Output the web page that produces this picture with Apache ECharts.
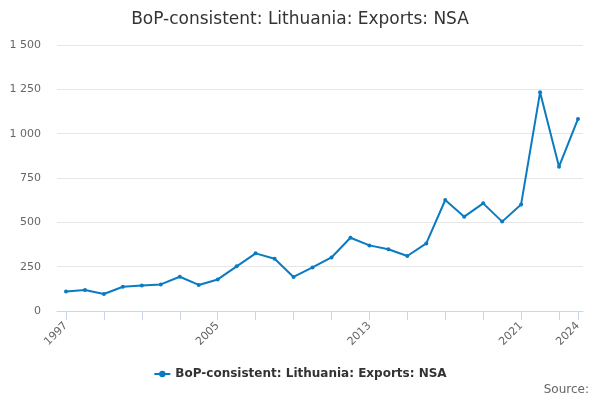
<!DOCTYPE html>
<html><head><meta charset="utf-8">
<script src="https://cdn.jsdelivr.net/npm/echarts@6/dist/echarts.min.js"></script>
<style>html,body{margin:0;padding:0;background:#fff}#c{width:600px;height:400px}</style>
</head><body><div id="c"></div>
<script>
const years = [1997,1998,1999,2000,2001,2002,2003,2004,2005,2006,2007,2008,2009,2010,2011,2012,2013,2014,2015,2016,2017,2018,2019,2020,2021,2022,2023,2024];
const exportsNSA = [110,118,96,137,144,150,193,147,178,252,325,295,192,246,302,413,370,348,310,381,626,532,607,504,601,1233,814,1083];
const labelYears = [1997,2005,2013,2021,2024];
const tickYears = [1997,1999,2001,2003,2005,2007,2009,2011,2013,2015,2017,2019,2021,2023,2024];
const seriesName = "BoP-consistent: Lithuania: Exports: NSA";

const chart = echarts.init(document.getElementById('c'));
const font = 'DejaVu Sans';
chart.setOption({
  animation: false,
  title: { text: seriesName, left: 'center', top: 6,
    textStyle: { fontFamily: font, fontSize: 17, fontWeight: 'normal', color: '#333' } },
  grid: { left: 57, right: 17, top: 45, bottom: 89 },
  legend: { bottom: 15, left: 'center', itemWidth: 16, itemHeight: 8,
    textStyle: { fontFamily: font, fontSize: 12, fontWeight: 'bold', color: '#333' } },
  graphic: [{ type: 'text', right: 11, bottom: 4,
    style: { text: 'Source:', fontFamily: font, fontSize: 12, fill: '#666' } }],
  xAxis: {
    type: 'value', min: 1996.525, max: 2024.264,
    splitLine: { show: false },
    axisLine: { show: true, lineStyle: { color: '#ccd6eb' } },
    axisTick: { show: true, length: 9, lineStyle: { color: '#ccd6eb' }, customValues: tickYears },
    axisLabel: { rotate: 45, color: '#666', fontFamily: font, fontSize: 11, margin: 13,
      customValues: labelYears, formatter: (v) => String(v) }
  },
  yAxis: {
    type: 'value', min: 0, max: 1500, interval: 250,
    axisLine: { show: false }, axisTick: { show: false },
    splitLine: { lineStyle: { color: '#e6e6e6' } },
    axisLabel: { color: '#666', fontFamily: font, fontSize: 11, margin: 16,
      formatter: (v) => String(v).replace(/\B(?=(\d{3})+(?!\d))/g, ' ') }
  },
  series: [{
    name: seriesName, type: 'line', data: years.map((y, i) => [y, exportsNSA[i]]),
    symbol: 'circle', symbolSize: 4,
    lineStyle: { width: 2, color: '#0b7bc1' },
    itemStyle: { color: '#0b7bc1' }
  }]
});
</script></body></html>
